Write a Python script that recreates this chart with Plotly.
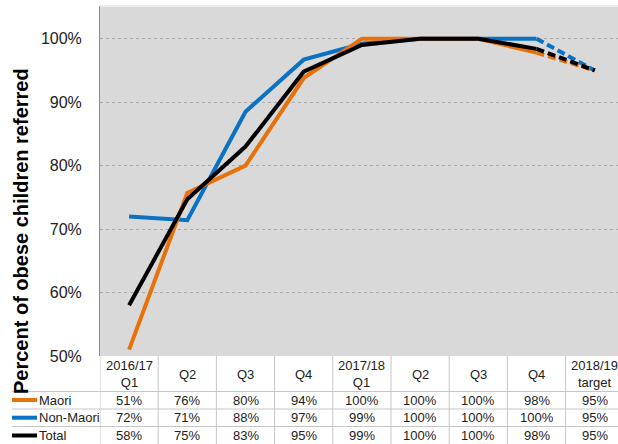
import plotly.graph_objects as go

categories = ["2016/17<br>Q1", "Q2", "Q3", "Q4", "2017/18<br>Q1", "Q2", "Q3", "Q4", "2018/19<br>target"]
series_names = ["Maori", "Non-Maori", "Total"]
maori = [51, 75.7, 80, 93.8, 100, 100, 100, 97.8, 95]
non_maori = [72, 71.4, 88.5, 96.7, 99.2, 100, 100, 100, 95]
total = [58, 74.7, 83, 94.8, 99, 100, 100, 98.4, 95]
y_ticks = [50, 60, 70, 80, 90, 100]

colors = {"Maori": "#E8710A", "Non-Maori": "#0A72C4", "Total": "#000000"}
values = {"Maori": maori, "Non-Maori": non_maori, "Total": total}

fig = go.Figure()
xs = list(range(len(categories)))
last_actual = len(categories) - 2  # index of last actual quarter
for name in ["Non-Maori", "Maori", "Total"]:
    v = values[name]
    fig.add_trace(go.Scatter(x=xs[:last_actual + 1], y=v[:last_actual + 1], mode="lines",
                             line=dict(color=colors[name], width=4), showlegend=False,
                             hoverinfo="skip"))
    fig.add_trace(go.Scatter(x=xs[last_actual:], y=v[last_actual:], mode="lines",
                             line=dict(color=colors[name], width=4, dash="8px,4px"),
                             showlegend=False, hoverinfo="skip"))

W, H = 618, 444
ml, mt, mb = 100, 6, 88
plot_h = H - mt - mb
spacing = 58.2
plot_w = W - ml

def py(p):
    return (H - mb - p) / plot_h

grid_col = "#c6c6c6"
shapes = []
annotations = []
# table: vertical lines
for i in range(len(categories) + 1):
    shapes.append(dict(type="line", xref="x", yref="paper", x0=i - 0.5, x1=i - 0.5,
                       y0=0, y1=py(H), line=dict(color=grid_col, width=1)))
# header bottom and row separators
for p, x0 in [(391.5, 12), (409, 12), (426.5, 12)]:
    shapes.append(dict(type="line", xref="paper", yref="paper", x0=(x0 - ml) / plot_w, x1=1,
                       y0=py(p), y1=py(p), line=dict(color=grid_col, width=1)))
# header text
for i, c in enumerate(categories):
    annotations.append(dict(xref="x", yref="paper", x=i, y=py(374), text=c, showarrow=False,
                            font=dict(size=13, color="#222"), xanchor="center", yanchor="middle"))
row_centers = {"Maori": 400, "Non-Maori": 417.7, "Total": 435.5}
for name in series_names:
    yc = py(row_centers[name])
    shapes.append(dict(type="line", xref="paper", yref="paper", x0=(12 - ml) / plot_w,
                       x1=(37 - ml) / plot_w, y0=yc, y1=yc,
                       line=dict(color=colors[name], width=4)))
    annotations.append(dict(xref="paper", yref="paper", x=(37 - ml) / plot_w, y=yc, text=name,
                            showarrow=False, font=dict(size=13, color="#222"),
                            xanchor="left", yanchor="middle"))
    for i, v in enumerate(values[name]):
        annotations.append(dict(xref="x", yref="paper", x=i, y=yc, text=f"{round(v)}%",
                                showarrow=False, font=dict(size=13, color="#222"),
                                xanchor="center", yanchor="middle"))
# top border
shapes.append(dict(type="line", xref="paper", yref="paper", x0=0, x1=1, y0=1, y1=1,
                   line=dict(color="#ececec", width=2)))
# y title
annotations.append(dict(xref="paper", yref="paper", x=(21 - ml) / plot_w, y=py(231),
                        text="<b>Percent of obese children referred</b>", textangle=-90,
                        showarrow=False, font=dict(size=20, color="#000"),
                        xanchor="center", yanchor="middle"))

fig.update_layout(
    width=W, height=H,
    margin=dict(l=ml, r=0, t=mt, b=mb, pad=0),
    paper_bgcolor="white", plot_bgcolor="#d9d9d9",
    font=dict(family="Liberation Sans, Arial, sans-serif"),
    xaxis=dict(range=[-0.5, -0.5 + plot_w / spacing], showticklabels=False, showgrid=False,
               zeroline=False, fixedrange=True),
    yaxis=dict(range=[50, 50 + plot_h / 6.346], tickvals=y_ticks,
               ticktext=[f"{t}%" for t in y_ticks], tickfont=dict(size=16, color="#222"),
               showgrid=True, gridcolor="#aaaaaa", griddash="dot", gridwidth=1,
               zeroline=False, showline=True, linecolor="#8c8c8c", linewidth=1,
               ticklabelstandoff=14, ticks="", fixedrange=True),
    shapes=shapes, annotations=annotations,
)
fig.write_html("out.html", config={"displayModeBar": False, "staticPlot": True},
               post_script="document.body.style.margin='0';document.body.style.overflow='hidden';")
